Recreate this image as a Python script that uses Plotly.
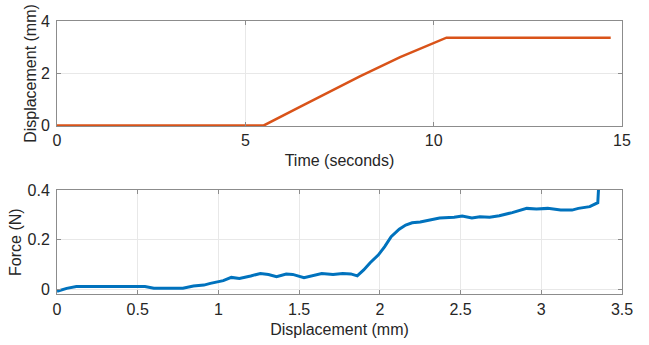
import plotly.graph_objects as go

# Top panel: displacement vs time
time_s = [0.0, 5.49, 6.45, 8.04, 9.11, 9.99, 10.34, 14.7]
disp_mm = [0.0, 0.0, 0.71, 1.88, 2.62, 3.17, 3.36, 3.36]

# Bottom panel: force vs displacement
f_disp = [0.0, 0.06, 0.12, 0.51, 0.545, 0.6, 0.78, 0.845, 0.91, 0.95, 0.99, 1.03, 1.08,
          1.13, 1.2, 1.26, 1.31, 1.36, 1.42, 1.46, 1.53, 1.58, 1.64, 1.71, 1.77, 1.82,
          1.86, 1.90, 1.94, 1.99, 2.03, 2.07, 2.12, 2.16, 2.20, 2.25, 2.31, 2.37, 2.46,
          2.51, 2.57, 2.62, 2.68, 2.74, 2.82, 2.87, 2.91, 2.97, 3.04, 3.12, 3.19, 3.23,
          3.30, 3.35, 3.356]
force_n = [-0.008, 0.004, 0.011, 0.011, 0.011, 0.004, 0.004, 0.013, 0.017, 0.024, 0.028,
           0.035, 0.048, 0.044, 0.054, 0.064, 0.060, 0.051, 0.062, 0.060, 0.047, 0.054,
           0.064, 0.060, 0.064, 0.062, 0.054, 0.078, 0.107, 0.138, 0.172, 0.212, 0.242,
           0.259, 0.268, 0.271, 0.279, 0.287, 0.290, 0.295, 0.287, 0.292, 0.290, 0.296,
           0.309, 0.317, 0.326, 0.323, 0.326, 0.319, 0.319, 0.326, 0.333, 0.349, 0.42]

top_xticks = [0, 5, 10, 15]
top_yticks = [0, 2, 4]
bot_xticks = [0, 0.5, 1, 1.5, 2, 2.5, 3, 3.5]
bot_yticks = [0, 0.2, 0.4]

W, H = 649, 345
font = dict(family="Liberation Sans, Arial, sans-serif", size=16, color="#262626")

def xdom(a, b):
    return [a / W, b / W]

def ydom(top, bottom):
    return [1 - bottom / H, 1 - top / H]

fig = go.Figure()
fig.add_trace(go.Scatter(x=time_s, y=disp_mm, mode="lines",
                         line=dict(color="#D95319", width=2.5),
                         xaxis="x", yaxis="y", showlegend=False))
fig.add_trace(go.Scatter(x=f_disp, y=force_n, mode="lines",
                         line=dict(color="#0072BD", width=3),
                         xaxis="x2", yaxis="y2", showlegend=False))

axis_common = dict(showline=True, linecolor="#8c8c8c", linewidth=1, mirror="ticks",
                   ticks="inside", ticklen=4, tickcolor="#8c8c8c", automargin=False,
                   showgrid=True, gridcolor="#e8e8e8", gridwidth=1, zeroline=False,
                   tickfont=font)

fig.update_layout(
    width=W, height=H, margin=dict(l=0, r=0, t=0, b=0),
    paper_bgcolor="white", plot_bgcolor="white", font=font,
    xaxis=dict(domain=xdom(57, 622), anchor="y", range=[0, 15],
               tickvals=top_xticks, title=dict(text="Time (seconds)", standoff=6, font=font),
               **axis_common),
    yaxis=dict(domain=ydom(21, 126), anchor="x", range=[-0.02, 4], ticklabelstandoff=3,
               tickvals=top_yticks, title=dict(text="Displacement (mm)", standoff=0, font=font),
               **axis_common),
    xaxis2=dict(domain=xdom(57, 622), anchor="y2", range=[0, 3.5],
                tickvals=bot_xticks, title=dict(text="Displacement (mm)", standoff=7, font=font),
                **axis_common),
    yaxis2=dict(domain=ydom(190, 294.3), anchor="x2", range=[-0.02, 0.4], ticklabelstandoff=3,
                tickvals=bot_yticks, title=dict(text="Force (N)", standoff=1, font=font),
                **axis_common),
)

fig.write_html("out.html", config={"displayModeBar": False},
               post_script="document.body.style.margin='0';")
